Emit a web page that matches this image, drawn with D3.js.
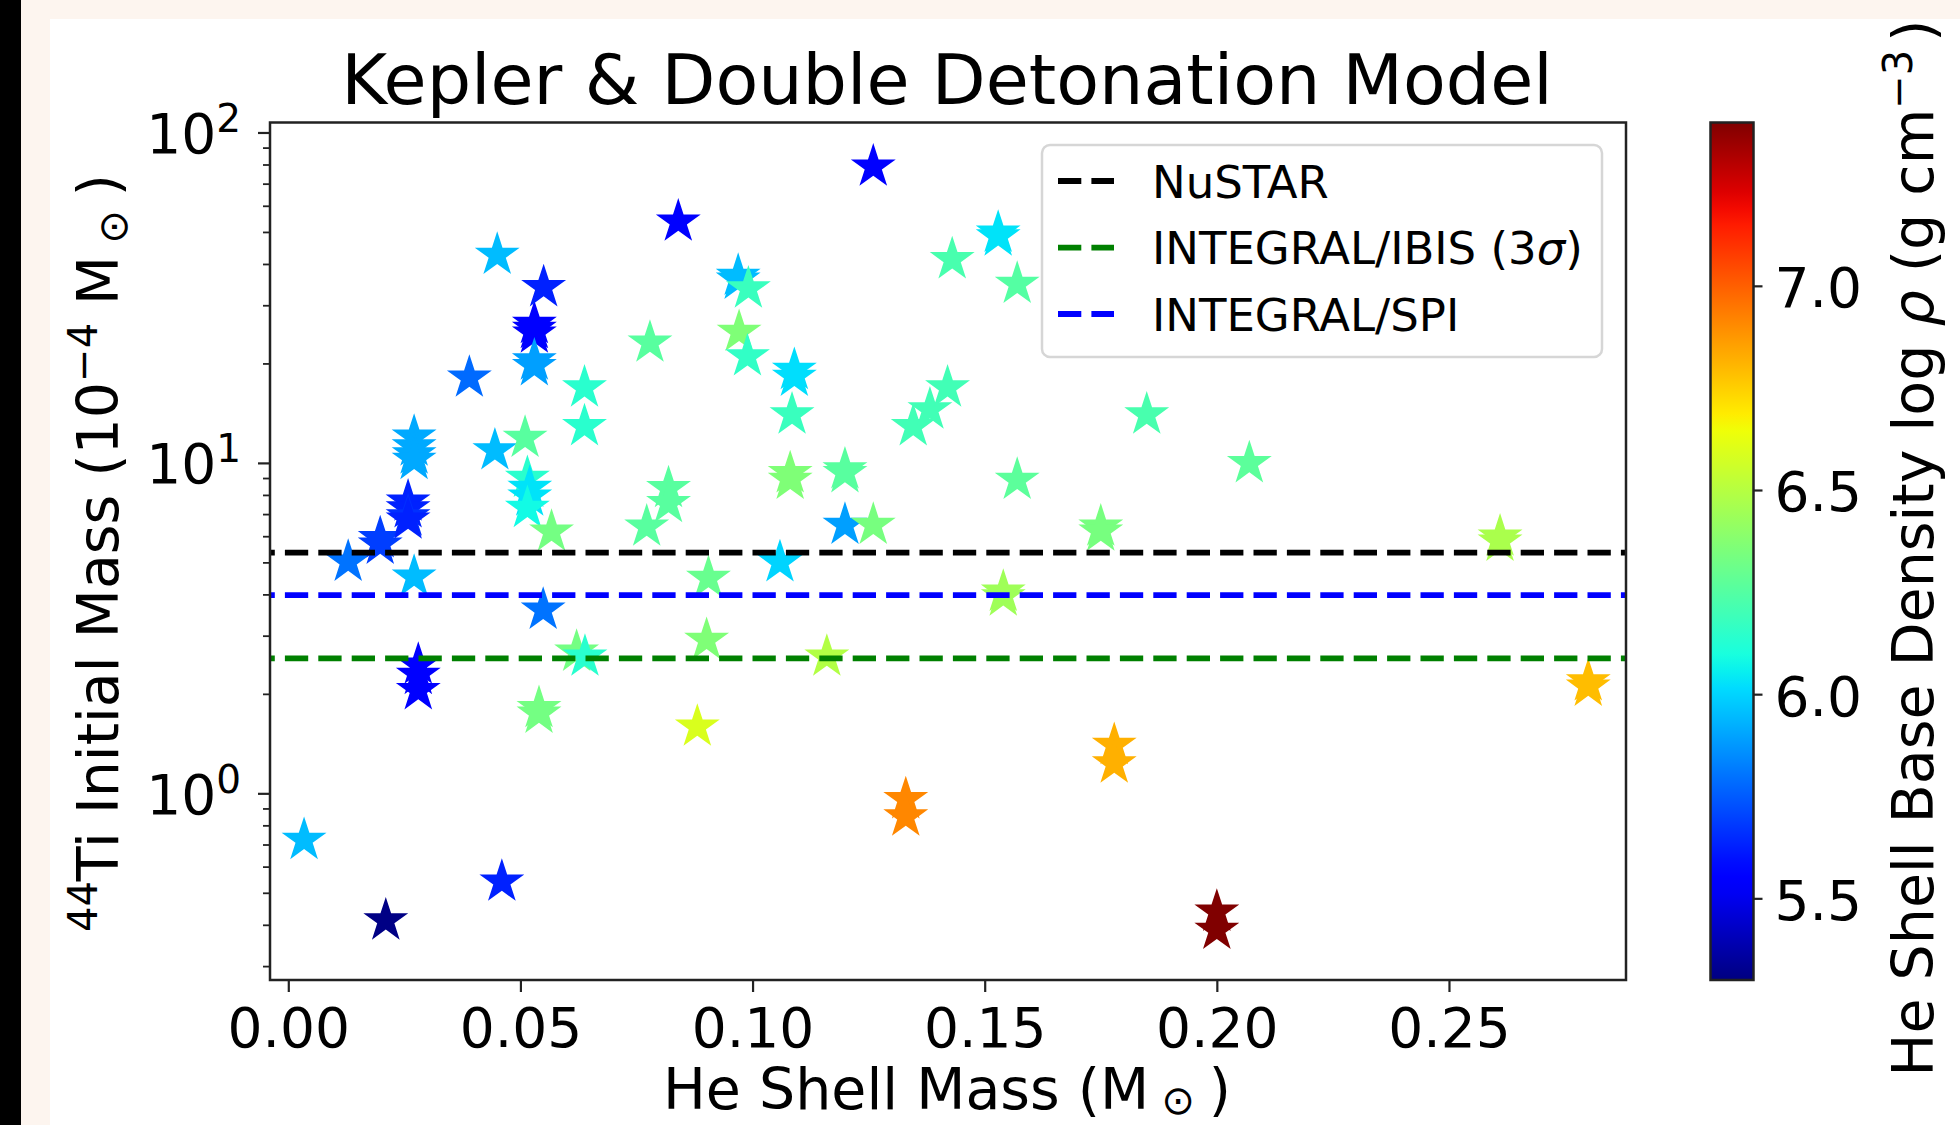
<!DOCTYPE html>
<html>
<head>
<meta charset="utf-8">
<script src="https://cdn.jsdelivr.net/npm/d3@7"></script>
<style>
  body { margin: 0; background: #fff; }
  svg { display: block; font-family: "DejaVu Sans", sans-serif; }
</style>
</head>
<body>
<div id="chart"></div>
<script>
//Datos: masa de la capa de He, masa inicial de 44Ti, densidad
const heMass = [0.0034, 0.0210, 0.0460, 0.0129, 0.0198, 0.0198, 0.0271, 0.0258, 0.0258, 0.0258,
    0.0258, 0.0271, 0.0271, 0.0271, 0.0271, 0.0280, 0.0280, 0.0280, 0.0390, 0.0450,
    0.0445, 0.0510, 0.0515, 0.0520, 0.0520, 0.0515, 0.0530, 0.0530, 0.0530, 0.0550,
    0.0530, 0.0530, 0.0567, 0.0549, 0.0540, 0.0540, 0.0621, 0.0639, 0.0638, 0.0638,
    0.0779, 0.0772, 0.0819, 0.0819, 0.0840, 0.0881, 0.0901, 0.0905, 0.0969, 0.0969,
    0.0991, 0.0971, 0.0989, 0.1090, 0.1090, 0.1085, 0.1059, 0.1081, 0.1081, 0.1160,
    0.1199, 0.1199, 0.1199, 0.1260, 0.1260, 0.1330, 0.1330, 0.1346, 0.1382, 0.1420,
    0.1430, 0.1529, 0.1529, 0.1540, 0.1540, 0.1570, 0.1570, 0.1750, 0.1750, 0.1779,
    0.1779, 0.1849, 0.2000, 0.2000, 0.2070, 0.2610, 0.2610, 0.2800, 0.2800];

const tiMass = [0.722, 0.412, 0.540, 5.02, 5.91, 5.65, 4.52, 7.63, 7.28, 6.88,
    6.73, 12.0, 11.2, 10.6, 10.2, 2.45, 2.28, 2.05, 18.1, 42.6,
    10.9, 11.9, 9.0, 8.4, 7.9, 7.3, 26.3, 25.4, 24.6, 34.0,
    20.4, 19.6, 6.19, 3.59, 1.81, 1.74, 2.68, 2.59, 16.9, 12.9,
    23.1, 6.41, 8.38, 7.55, 53.7, 1.59, 2.91, 4.48, 36.8, 35.8,
    33.7, 24.9, 21.0, 19.1, 18.2, 14.0, 5.0, 9.30, 8.88, 2.59,
    9.55, 9.30, 6.49, 6.49, 78.8, 0.959, 0.850, 12.9, 14.5, 16.9,
    41.3, 49.7, 48.4, 4.07, 3.94, 34.8, 8.88, 6.41, 6.19, 1.40,
    1.23, 14.0, 0.438, 0.386, 9.97, 5.98, 5.77, 2.18, 2.10];

const logRho = [5.95, 5.31, 5.63, 5.80, 5.69, 5.69, 5.95, 5.63, 5.63, 5.66,
    5.63, 5.91, 5.91, 5.91, 5.91, 5.54, 5.54, 5.54, 5.78, 5.95,
    5.95, 6.26, 6.14, 6.03, 6.03, 6.08, 5.54, 5.54, 5.56, 5.63,
    5.89, 5.89, 6.33, 5.80, 6.33, 6.33, 6.33, 6.14, 6.14, 6.14,
    6.26, 6.26, 6.26, 6.26, 5.54, 6.59, 6.36, 6.30, 5.95, 5.95,
    6.18, 6.36, 6.16, 6.02, 6.02, 6.18, 6.00, 6.36, 6.36, 6.49,
    6.26, 6.26, 5.89, 6.34, 5.54, 6.91, 6.91, 6.20, 6.20, 6.20,
    6.22, 6.03, 6.03, 6.44, 6.44, 6.25, 6.27, 6.34, 6.34, 6.82,
    6.82, 6.22, 7.40, 7.40, 6.27, 6.47, 6.47, 6.79, 6.79];

//Ticks
const xTicks = [0, 0.05, 0.10, 0.15, 0.20, 0.25];
const yTicks = [1, 10, 100];
const cbTicks = [5.5, 6.0, 6.5, 7.0];

//Límites de detección
const limitNames = ['NuSTAR', 'INTEGRAL/IBIS (3', 'INTEGRAL/SPI'];
const limitValues = [5.35, 2.56, 3.98];
const limitColors = ['#000000', '#008000', '#0000ff'];

const W = 1960, H = 1125;
const FONT = 55;
const plot = {left: 270, right: 1626, top: 122.5, bottom: 980};
const cbar = {left: 1710.5, right: 1753.5};

let svg = d3.select('#chart').append('svg')
    .attr('width', W)
    .attr('height', H);

//Fondo (marco de la captura)
svg.append('rect').attr('width', W).attr('height', H).attr('fill', '#fff');
svg.append('rect').attr('x', 21).attr('y', 0).attr('width', W - 21).attr('height', 19).attr('fill', '#fdf5ef');
svg.append('rect').attr('x', 21).attr('y', 0).attr('width', 29).attr('height', H).attr('fill', '#fdf5ef');
svg.append('rect').attr('x', 0).attr('y', 0).attr('width', 21).attr('height', H).attr('fill', '#000');

//Escalas
let x = d3.scaleLinear()
    .domain([-0.00394, 0.28813])
    .range([plot.left, plot.right]);

let y = d3.scaleLog()
    .domain([0.2723, 107.2])
    .range([plot.bottom, plot.top]);

let cbScale = d3.scaleLinear()
    .domain([5.30, 7.40])
    .range([plot.bottom, plot.top]);

let tScale = d3.scaleLinear().domain([5.30, 7.40]).range([0, 1]).clamp(true);

//Colormap jet (matplotlib)
let jetR = d3.scaleLinear().domain([0, 0.35, 0.66, 0.89, 1]).range([0, 0, 1, 1, 0.5]).clamp(true);
let jetG = d3.scaleLinear().domain([0, 0.125, 0.375, 0.64, 0.91, 1]).range([0, 0, 1, 1, 0, 0]).clamp(true);
let jetB = d3.scaleLinear().domain([0, 0.11, 0.34, 0.65, 1]).range([0.5, 1, 1, 0, 0]).clamp(true);
function jet(t) {
    return d3.rgb(jetR(t) * 255, jetG(t) * 255, jetB(t) * 255).formatHex();
}

//Título
svg.append('text')
    .attr('x', 947)
    .attr('y', 103.6)
    .attr('text-anchor', 'middle')
    .style('font-size', '70px')
    .text('Kepler & Double Detonation Model');

//Eje X
let xAxis = svg.append('g')
    .attr('transform', 'translate(0,' + plot.bottom + ')')
    .call(d3.axisBottom(x).tickValues(xTicks).tickSize(12).tickPadding(16).tickFormat(d3.format('.2f')));
xAxis.select('.domain').remove();
xAxis.selectAll('.tick line').attr('stroke', '#222').attr('stroke-width', 2.2);
xAxis.selectAll('.tick text').style('font-size', FONT + 'px').attr('fill', '#000').style('font-family', '"DejaVu Sans", sans-serif');

//Eje Y (log)
let yMinor = y.ticks().filter(function(d) { return yTicks.indexOf(d) < 0; });
let yAxisMinor = svg.append('g')
    .attr('transform', 'translate(' + plot.left + ',0)')
    .call(d3.axisLeft(y).tickValues(yMinor).tickSize(7).tickFormat(''));
yAxisMinor.select('.domain').remove();
yAxisMinor.selectAll('.tick line').attr('stroke', '#222').attr('stroke-width', 1.8);

let yAxis = svg.append('g')
    .attr('transform', 'translate(' + plot.left + ',0)')
    .call(d3.axisLeft(y).tickValues(yTicks).tickSize(12).tickFormat(''));
yAxis.select('.domain').remove();
yAxis.selectAll('.tick line').attr('stroke', '#222').attr('stroke-width', 2.2);

let yLabels = svg.append('g').style('font-size', FONT + 'px');
yTicks.forEach(function(v) {
    let t = yLabels.append('text')
        .attr('x', 241)
        .attr('y', y(v) + 20.5)
        .attr('text-anchor', 'end');
    t.append('tspan').text('10');
    t.append('tspan').attr('dy', -21).style('font-size', '39px').text(Math.round(Math.log10(v)));
});

//Estrellas
let star = d3.symbol().type(d3.symbolStar).size(625);
let points = heMass.map(function(d, i) { return {x: d, y: tiMass[i], c: logRho[i]}; });
svg.append('g')
    .selectAll('path')
    .data(points)
    .enter()
    .append('path')
    .attr('d', star)
    .attr('transform', function(d) { return 'translate(' + x(d.x) + ',' + y(d.y) + ')'; })
    .attr('fill', function(d) { return jet(tScale(d.c)); });

//Líneas horizontales de los límites
svg.append('g')
    .selectAll('line')
    .data(limitValues)
    .enter()
    .append('line')
    .attr('x1', plot.left)
    .attr('x2', plot.right)
    .attr('y1', function(d) { return y(d); })
    .attr('y2', function(d) { return y(d); })
    .attr('stroke', function(d, i) { return limitColors[i]; })
    .attr('stroke-width', 5.8)
    .attr('stroke-dasharray', '23.3,10.1')
    .attr('stroke-dashoffset', 18.5);

//Marco
svg.append('rect')
    .attr('x', plot.left).attr('y', plot.top)
    .attr('width', plot.right - plot.left).attr('height', plot.bottom - plot.top)
    .attr('fill', 'none').attr('stroke', '#222').attr('stroke-width', 2.5);

//Etiqueta X
let xl = svg.append('text')
    .attr('x', 947)
    .attr('y', 1109)
    .attr('text-anchor', 'middle')
    .style('font-size', '57px');
xl.append('tspan').text('He Shell Mass (M');
xl.append('tspan').attr('dx', 12).attr('dy', 5).style('font-size', '40px').text('⊙');
xl.append('tspan').attr('dx', 14).attr('dy', -5).text(')');

//Etiqueta Y
let yl = svg.append('text')
    .attr('transform', 'translate(118,553) rotate(-90)')
    .attr('text-anchor', 'middle')
    .style('font-size', '57px');
yl.append('tspan').attr('dy', -21).style('font-size', '40px').text('44');
yl.append('tspan').attr('dy', 21).text('Ti Initial Mass (10');
yl.append('tspan').attr('dy', -21).style('font-size', '40px').text('−4');
yl.append('tspan').attr('dx', 18).attr('dy', 21).text('M');
yl.append('tspan').attr('dx', 12).attr('dy', 9).style('font-size', '40px').text('⊙');
yl.append('tspan').attr('dx', 14).attr('dy', -9).text(')');

//Leyenda
let legend = svg.append('g');
legend.append('rect')
    .attr('x', 1042).attr('y', 145)
    .attr('width', 560).attr('height', 212)
    .attr('rx', 8)
    .attr('fill', '#fff').attr('fill-opacity', 0.8)
    .attr('stroke', '#d6d6d6').attr('stroke-width', 2.5);
let legendLineY = [181, 247.7, 314];
limitNames.forEach(function(name, i) {
    legend.append('line')
        .attr('x1', 1058).attr('x2', 1114)
        .attr('y1', legendLineY[i]).attr('y2', legendLineY[i])
        .attr('stroke', limitColors[i])
        .attr('stroke-width', 5.8)
        .attr('stroke-dasharray', '23.3,10.1');
    let t = legend.append('text')
        .attr('x', 1152)
        .attr('y', legendLineY[i] + 16.5)
        .style('font-size', '45px')
        .text(name);
    if (i == 1) {
        t.append('tspan').style('font-style', 'italic').text('σ');
        t.append('tspan').text(')');
    }
});

//Barra de color
let defs = svg.append('defs');
let grad = defs.append('linearGradient')
    .attr('id', 'jetgrad')
    .attr('x1', 0).attr('y1', 1).attr('x2', 0).attr('y2', 0);
d3.range(0, 1.0001, 0.02).forEach(function(t) {
    grad.append('stop').attr('offset', t).attr('stop-color', jet(t));
});
svg.append('rect')
    .attr('x', cbar.left).attr('y', plot.top)
    .attr('width', cbar.right - cbar.left).attr('height', plot.bottom - plot.top)
    .attr('fill', 'url(#jetgrad)')
    .attr('stroke', '#222').attr('stroke-width', 2.5);

let cbAxis = svg.append('g')
    .attr('transform', 'translate(' + cbar.right + ',0)')
    .call(d3.axisRight(cbScale).tickValues(cbTicks).tickSize(9).tickPadding(12).tickFormat(d3.format('.1f')));
cbAxis.select('.domain').remove();
cbAxis.selectAll('.tick line').attr('stroke', '#222').attr('stroke-width', 2.2);
cbAxis.selectAll('.tick text').style('font-size', FONT + 'px').attr('fill', '#000').attr('dy', '0.38em').style('font-family', '"DejaVu Sans", sans-serif');

//Etiqueta de la barra de color
let cl = svg.append('text')
    .attr('transform', 'translate(1933,548) rotate(-90)')
    .attr('text-anchor', 'middle')
    .style('font-size', '57px');
cl.append('tspan').text('He Shell Base Density log ');
cl.append('tspan').style('font-style', 'italic').text('ρ');
cl.append('tspan').text(' (g cm');
cl.append('tspan').attr('dy', -21).style('font-size', '40px').text('−3');
cl.append('tspan').attr('dy', 21).attr('dx', 8).text(')');
</script>
</body>
</html>
